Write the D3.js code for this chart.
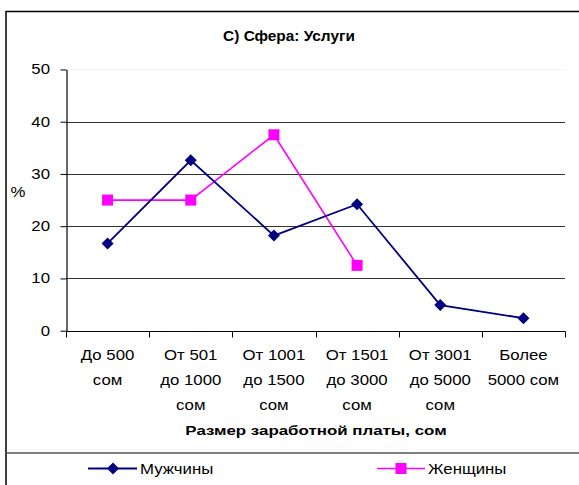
<!DOCTYPE html>
<html><head><meta charset="utf-8">
<script src="https://cdn.jsdelivr.net/npm/d3@7"></script>
<style>body{margin:0;background:#fff}svg{display:block}text{font-family:Arial,"Liberation Sans",sans-serif;fill:#000}</style>
</head><body>
<script>
const categories = ["До 500\nсом","От 501\nдо 1000\nсом","От 1001\nдо 1500\nсом","От 1501\nдо 3000\nсом","От 3001\nдо 5000\nсом","Более\n5000 сом"];
const men = [16.7, 32.6, 18.2, 24.2, 4.9, 2.4];
const women = [25, 25, 37.5, 12.5, null, null];
const yTicks = [0, 10, 20, 30, 40, 50];
const title = "С) Сфера: Услуги";
const xTitle = "Размер заработной платы, сом";
const yTitle = "%";
const seriesNames = ["Мужчины", "Женщины"];

const W = 579, H = 485, SX = 1.2;
const svg = d3.select("body").append("svg").attr("width", W).attr("height", H);

// frame
svg.append("path").attr("d", `M6,${H+2}V11.5H${W+2}`).attr("fill","none").attr("stroke","#000").attr("stroke-width",1.5);
svg.append("line").attr("x1",6).attr("x2",W+2).attr("y1",453).attr("y2",453).attr("stroke","#555").attr("stroke-width",1.5);

const x = d3.scaleBand().domain(categories).range([66, 565]).padding(0);
const y = d3.scaleLinear().domain([0, 50]).range([330.7, 69.45]);

function stext(g, tx, ty, str, size, anchor, weight, sx) {
  return g.append("text").attr("transform", `translate(${tx},${ty}) scale(${sx||SX},1)`)
    .attr("text-anchor", anchor).attr("font-size", size).attr("font-weight", weight||"normal").text(str);
}

// gridlines
svg.append("g").selectAll("line").data(yTicks.filter(d => d > 0)).join("line")
  .attr("x1", 66).attr("x2", 565)
  .attr("y1", d => Math.round(y(d)) + 0.5).attr("y2", d => Math.round(y(d)) + 0.5)
  .attr("stroke", d => d === 50 ? "#f2f2f2" : "#333").attr("stroke-width", 1.2);

// y axis
const ya = svg.append("g").attr("transform", "translate(66.5,0)")
  .call(d3.axisLeft(y).tickValues(yTicks).tickSize(6).tickSizeOuter(0).tickFormat(d3.format("d")));
ya.select(".domain").attr("stroke", "#000").attr("stroke-width", 1.2);
ya.selectAll(".tick line").attr("stroke", "#000");
ya.selectAll(".tick text").remove();
yTicks.forEach(t => stext(svg, 50, y(t) + 5, String(t), 14, "end"));

// x axis
const xa = svg.append("g").attr("transform", `translate(0,${Math.round(y(0)) + 0.5})`);
xa.append("line").attr("x1", 66).attr("x2", 565.5).attr("stroke", "#000").attr("stroke-width", 1.2);
const bounds = categories.map(c => x(c)).concat([x.range()[1]]);
xa.selectAll("line.t").data(bounds).join("line").attr("class","t")
  .attr("x1", d => Math.round(d) + 0.5).attr("x2", d => Math.round(d) + 0.5).attr("y1", 0).attr("y2", 6)
  .attr("stroke", "#000");
categories.forEach(c => {
  c.split("\n").forEach((line, i) => {
    stext(svg, x(c) + x.bandwidth() / 2, 360 + i * 25, line, 14, "middle");
  });
});

// titles
stext(svg, 289, 41, title, 14, "middle", "bold", 1.1);
stext(svg, 316, 435, xTitle, 13, "middle", "bold", 1.3);
stext(svg, 18, 197, yTitle, 14, "middle");

const cx = (d, i) => x(categories[i]) + x.bandwidth() / 2;
const diamond = (s) => `M0,${-s}L${s},0L0,${s}L${-s},0Z`;

// women
const wLine = d3.line().defined(d => d != null).x(cx).y(d => y(d));
svg.append("path").datum(women).attr("d", wLine).attr("fill", "none").attr("stroke", "#FF00FF").attr("stroke-width", 1.6);
svg.append("g").selectAll("rect").data(women.map((v, i) => ({v, i})).filter(d => d.v != null)).join("rect")
  .attr("x", d => cx(d.v, d.i) - 5.5).attr("y", d => y(d.v) - 5.5).attr("width", 11).attr("height", 11).attr("fill", "#FF00FF");

// men
const mLine = d3.line().x(cx).y(d => y(d));
svg.append("path").datum(men).attr("d", mLine).attr("fill", "none").attr("stroke", "#000080").attr("stroke-width", 1.8);
svg.append("g").selectAll("path").data(men).join("path")
  .attr("transform", (d, i) => `translate(${cx(d, i)},${y(d)})`).attr("d", diamond(6)).attr("fill", "#000080");

// legend
const lg = svg.append("g");
lg.append("line").attr("x1", 88).attr("x2", 137).attr("y1", 468.5).attr("y2", 468.5).attr("stroke", "#000080").attr("stroke-width", 1.8);
lg.append("path").attr("transform", "translate(113,468.5)").attr("d", diamond(6)).attr("fill", "#000080");
stext(lg, 140, 474, seriesNames[0], 14, "start");
lg.append("line").attr("x1", 377).attr("x2", 425).attr("y1", 468.5).attr("y2", 468.5).attr("stroke", "#FF00FF").attr("stroke-width", 1.6);
lg.append("rect").attr("x", 395.5).attr("y", 463).attr("width", 11).attr("height", 11).attr("fill", "#FF00FF");
stext(lg, 428, 474, seriesNames[1], 14, "start");
</script>
</body></html>
